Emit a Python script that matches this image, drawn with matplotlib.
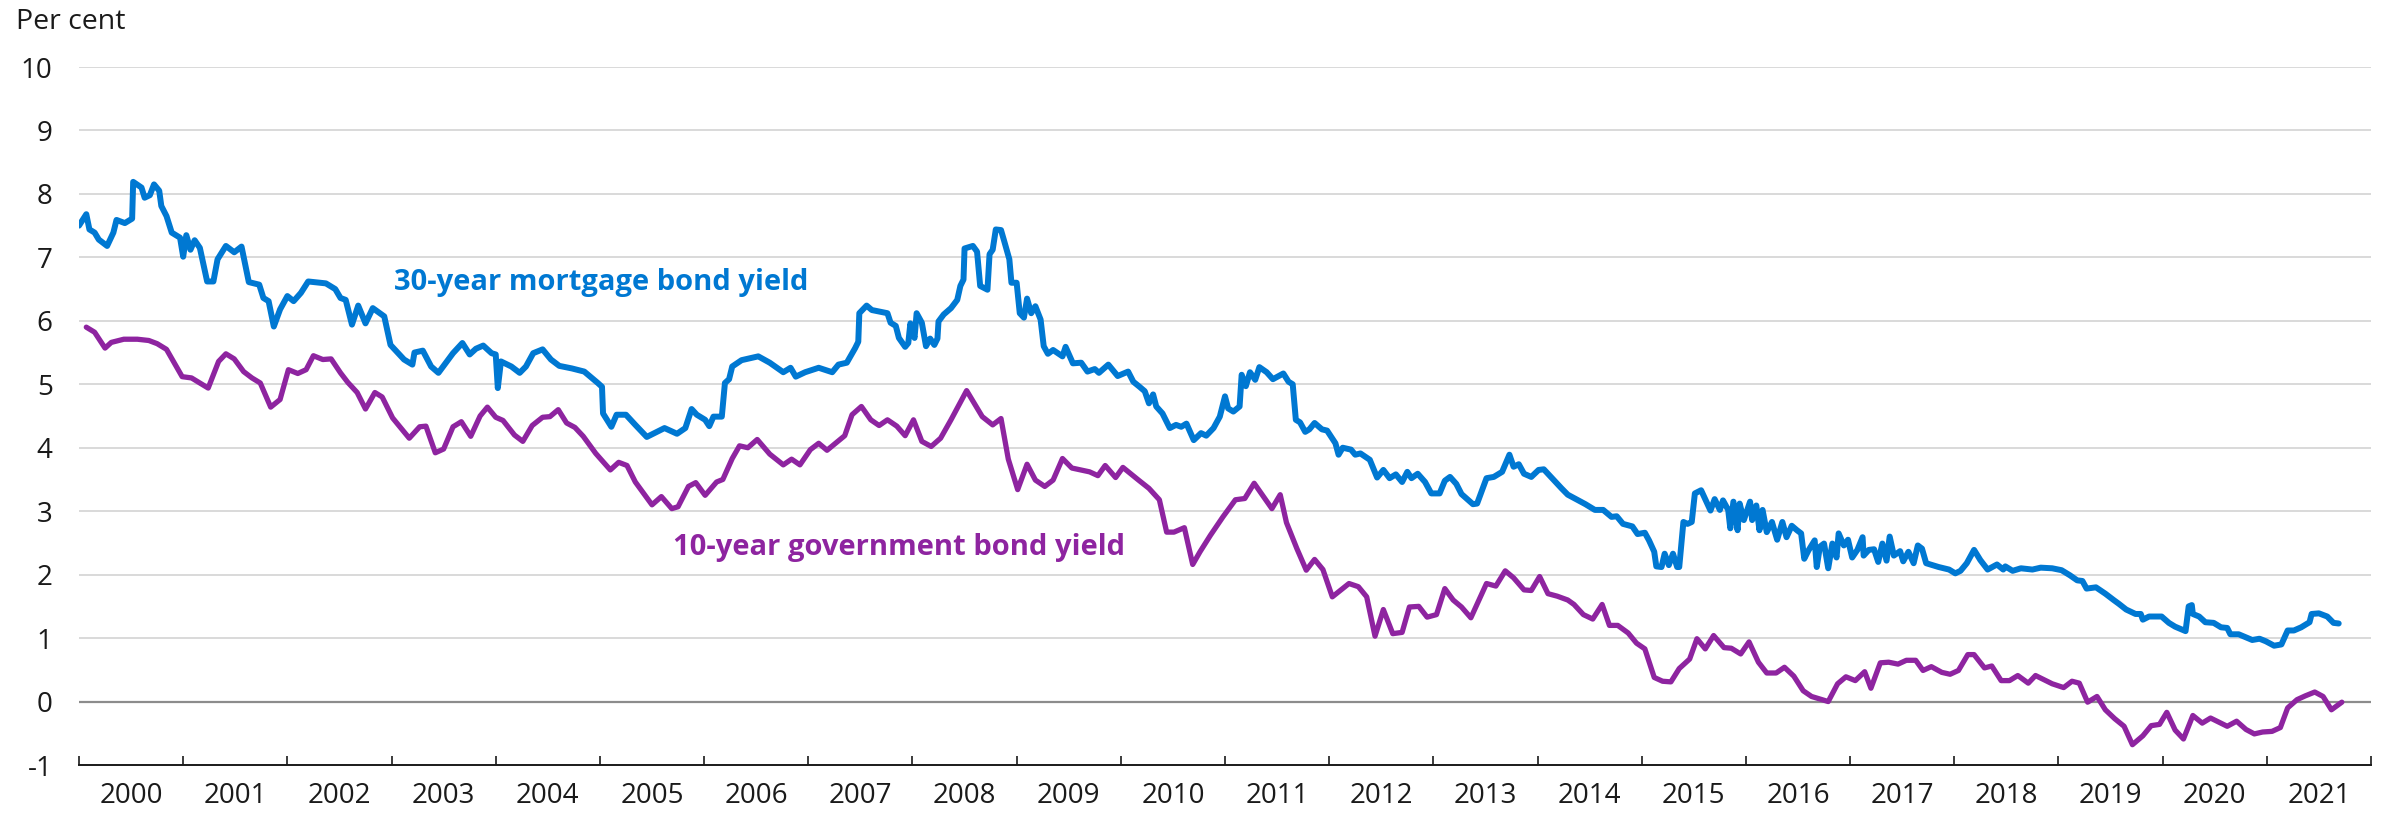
import matplotlib
matplotlib.use("Agg")
import matplotlib.pyplot as plt
import numpy as np

plt.rcParams['font.family'] = ['Open Sans', 'DejaVu Sans']

# 30-year mortgage bond yield (decimal year, per cent)
mortgage_t = [
    2000.00, 2000.07, 2000.10, 2000.15, 2000.19, 2000.27, 2000.33, 2000.36, 2000.44, 2000.51,
    2000.52, 2000.60, 2000.63, 2000.68, 2000.72, 2000.77, 2000.79, 2000.84, 2000.89, 2000.97,
    2001.00, 2001.03, 2001.07, 2001.11, 2001.16, 2001.23, 2001.29, 2001.33, 2001.41, 2001.49,
    2001.56, 2001.63, 2001.73, 2001.77, 2001.82, 2001.87, 2001.93, 2002.00, 2002.06, 2002.13,
    2002.20, 2002.37, 2002.46, 2002.51, 2002.56, 2002.62, 2002.68, 2002.75, 2002.82, 2002.93,
    2002.99, 2003.12, 2003.20, 2003.22, 2003.30, 2003.38, 2003.45, 2003.59, 2003.68, 2003.75,
    2003.81, 2003.88, 2003.96, 2004.00, 2004.02, 2004.05, 2004.15, 2004.23, 2004.29, 2004.36,
    2004.45, 2004.53, 2004.61, 2004.73, 2004.85, 2004.98, 2005.02, 2005.03, 2005.11, 2005.16,
    2005.25, 2005.34, 2005.45, 2005.62, 2005.74, 2005.82, 2005.88, 2005.93, 2006.01, 2006.05,
    2006.09, 2006.17, 2006.20, 2006.24, 2006.27, 2006.36, 2006.52, 2006.63, 2006.76, 2006.83,
    2006.88, 2006.97, 2007.10, 2007.23, 2007.29, 2007.37, 2007.45, 2007.48, 2007.49, 2007.56,
    2007.61, 2007.76, 2007.79, 2007.84, 2007.87, 2007.93, 2007.96, 2007.98, 2008.02, 2008.04,
    2008.09, 2008.13, 2008.17, 2008.21, 2008.24, 2008.25, 2008.30, 2008.37, 2008.43, 2008.46,
    2008.49, 2008.50, 2008.58, 2008.62, 2008.65, 2008.72, 2008.74, 2008.77, 2008.80, 2008.85,
    2008.88, 2008.93, 2008.95, 2009.00, 2009.03, 2009.07, 2009.10, 2009.14, 2009.18, 2009.23,
    2009.26, 2009.30, 2009.35, 2009.44, 2009.47, 2009.54, 2009.62, 2009.68, 2009.75, 2009.79,
    2009.88, 2009.97, 2010.07, 2010.12, 2010.18, 2010.23, 2010.27, 2010.31, 2010.34, 2010.40,
    2010.47, 2010.53, 2010.58, 2010.63, 2010.70, 2010.77, 2010.82, 2010.89, 2010.95, 2011.00,
    2011.03, 2011.08, 2011.14, 2011.16, 2011.20, 2011.24, 2011.29, 2011.33, 2011.40, 2011.46,
    2011.56, 2011.61, 2011.65, 2011.68, 2011.72, 2011.77, 2011.81, 2011.86, 2011.93, 2011.98,
    2012.06, 2012.09, 2012.13, 2012.21, 2012.25, 2012.30, 2012.39, 2012.46, 2012.52, 2012.58,
    2012.64, 2012.70, 2012.75, 2012.79, 2012.85, 2012.92, 2012.98, 2013.06, 2013.11, 2013.16,
    2013.22, 2013.27, 2013.38, 2013.42, 2013.51, 2013.58, 2013.66, 2013.73, 2013.77, 2013.82,
    2013.87, 2013.94, 2014.01, 2014.06, 2014.15, 2014.23, 2014.29, 2014.38, 2014.46, 2014.55,
    2014.63, 2014.71, 2014.76, 2014.82, 2014.91, 2014.96, 2015.03, 2015.07, 2015.12, 2015.14,
    2015.19, 2015.22, 2015.26, 2015.30, 2015.34, 2015.36, 2015.40, 2015.44, 2015.48, 2015.51,
    2015.57, 2015.62, 2015.66, 2015.70, 2015.75, 2015.78, 2015.83, 2015.85, 2015.88, 2015.92,
    2015.94, 2015.98, 2016.04, 2016.06, 2016.10, 2016.13, 2016.16, 2016.20, 2016.25, 2016.30,
    2016.35, 2016.39, 2016.44, 2016.49, 2016.53, 2016.56, 2016.60, 2016.66, 2016.68, 2016.71,
    2016.75, 2016.79, 2016.83, 2016.87, 2016.89, 2016.94, 2016.98, 2017.02, 2017.07, 2017.12,
    2017.13, 2017.18, 2017.23, 2017.27, 2017.31, 2017.35, 2017.38, 2017.42, 2017.48, 2017.51,
    2017.56, 2017.61, 2017.65, 2017.69, 2017.73, 2017.85, 2017.95, 2018.01, 2018.06, 2018.12,
    2018.19, 2018.25, 2018.32, 2018.41, 2018.47, 2018.49, 2018.56, 2018.64, 2018.75, 2018.83,
    2018.94, 2019.03, 2019.11, 2019.18, 2019.23, 2019.27, 2019.36, 2019.45, 2019.53, 2019.58,
    2019.65, 2019.74, 2019.79, 2019.81, 2019.87, 2019.99, 2020.06, 2020.12, 2020.22, 2020.25,
    2020.28, 2020.29, 2020.35, 2020.41, 2020.49, 2020.56, 2020.62, 2020.65, 2020.73, 2020.86,
    2020.93, 2020.99, 2021.07, 2021.14, 2021.20, 2021.26, 2021.33, 2021.41, 2021.43, 2021.50,
    2021.58, 2021.64, 2021.69,
]
mortgage_y = [
    7.50, 7.68, 7.44, 7.39, 7.28, 7.18, 7.39, 7.59, 7.54, 7.61,
    8.19, 8.10, 7.94, 7.98, 8.15, 8.05, 7.81, 7.65, 7.39, 7.31,
    7.01, 7.35, 7.12, 7.27, 7.15, 6.62, 6.62, 6.97, 7.18, 7.08,
    7.17, 6.61, 6.57, 6.36, 6.31, 5.91, 6.18, 6.39, 6.31, 6.44,
    6.62, 6.59, 6.50, 6.36, 6.33, 5.94, 6.24, 5.96, 6.20, 6.07,
    5.62, 5.39, 5.31, 5.50, 5.53, 5.28, 5.18, 5.49, 5.65, 5.47,
    5.56, 5.61, 5.49, 5.47, 4.94, 5.36, 5.28, 5.18, 5.28, 5.49,
    5.55, 5.39, 5.29, 5.25, 5.20, 5.02, 4.96, 4.54, 4.33, 4.52,
    4.52, 4.36, 4.17, 4.31, 4.22, 4.31, 4.61, 4.52, 4.44, 4.34,
    4.49, 4.49, 5.02, 5.08, 5.28, 5.38, 5.44, 5.34, 5.19, 5.26,
    5.12, 5.19, 5.26, 5.19, 5.31, 5.34, 5.57, 5.67, 6.12, 6.24,
    6.17, 6.12, 5.97, 5.92, 5.73, 5.59, 5.65, 5.96, 5.73, 6.12,
    5.97, 5.60, 5.72, 5.62, 5.72, 5.99, 6.10, 6.20, 6.33, 6.55,
    6.65, 7.14, 7.18, 7.09, 6.55, 6.49, 7.05, 7.12, 7.44, 7.43,
    7.26, 6.97, 6.60, 6.60, 6.12, 6.05, 6.35, 6.12, 6.23, 6.02,
    5.60, 5.48, 5.54, 5.44, 5.59, 5.33, 5.34, 5.20, 5.24, 5.18,
    5.31, 5.13, 5.20, 5.04, 4.96, 4.89, 4.70, 4.84, 4.65, 4.54,
    4.31, 4.36, 4.33, 4.38, 4.12, 4.23, 4.19, 4.31, 4.49, 4.81,
    4.62, 4.57, 4.65, 5.15, 4.97, 5.19, 5.07, 5.27, 5.19, 5.08,
    5.17, 5.04, 5.00, 4.44, 4.40, 4.25, 4.29, 4.39, 4.29, 4.27,
    4.07, 3.89, 4.00, 3.97, 3.89, 3.91, 3.81, 3.53, 3.65, 3.52,
    3.58, 3.46, 3.62, 3.52, 3.59, 3.46, 3.28, 3.28, 3.48, 3.54,
    3.43, 3.27, 3.11, 3.12, 3.52, 3.54, 3.62, 3.89, 3.70, 3.74,
    3.59, 3.54, 3.65, 3.66, 3.50, 3.36, 3.26, 3.18, 3.11, 3.02,
    3.02, 2.91, 2.92, 2.80, 2.76, 2.64, 2.66, 2.54, 2.36, 2.13,
    2.12, 2.33, 2.15, 2.33, 2.12, 2.12, 2.83, 2.80, 2.83, 3.28,
    3.33, 3.15, 3.01, 3.19, 3.02, 3.17, 3.02, 2.73, 3.15, 2.70,
    3.12, 2.86, 3.15, 2.86, 3.09, 2.70, 3.02, 2.67, 2.83, 2.55,
    2.83, 2.59, 2.77, 2.70, 2.65, 2.25, 2.38, 2.54, 2.12, 2.44,
    2.49, 2.10, 2.49, 2.27, 2.65, 2.46, 2.55, 2.27, 2.39, 2.59,
    2.30, 2.39, 2.40, 2.20, 2.49, 2.22, 2.60, 2.30, 2.37, 2.21,
    2.36, 2.18, 2.46, 2.41, 2.18, 2.12, 2.08, 2.02, 2.06, 2.18,
    2.39, 2.23, 2.08, 2.16, 2.08, 2.13, 2.06, 2.10, 2.08, 2.11,
    2.10, 2.07, 1.99, 1.91, 1.90, 1.78, 1.80, 1.70, 1.60, 1.54,
    1.45, 1.38, 1.38, 1.29, 1.34, 1.34, 1.24, 1.18, 1.11, 1.50,
    1.52, 1.38, 1.34, 1.25, 1.24, 1.17, 1.16, 1.06, 1.06, 0.97,
    0.99, 0.95, 0.88, 0.90, 1.12, 1.12, 1.17, 1.25, 1.38, 1.39,
    1.34, 1.24, 1.23,
]

# 10-year government bond yield
govt_t = [
    2000.07, 2000.15, 2000.25, 2000.31, 2000.43, 2000.56, 2000.67, 2000.75, 2000.84, 2000.99,
    2001.08, 2001.24, 2001.34, 2001.41, 2001.49, 2001.58, 2001.66, 2001.74, 2001.84, 2001.93,
    2002.01, 2002.10, 2002.18, 2002.25, 2002.34, 2002.42, 2002.51, 2002.58, 2002.67, 2002.75,
    2002.84, 2002.91, 2003.01, 2003.17, 2003.27, 2003.33, 2003.42, 2003.50, 2003.59, 2003.67,
    2003.76, 2003.85, 2003.92, 2004.00, 2004.07, 2004.18, 2004.26, 2004.35, 2004.45, 2004.52,
    2004.60, 2004.68, 2004.76, 2004.84, 2004.96, 2005.10, 2005.18, 2005.26, 2005.34, 2005.50,
    2005.59, 2005.69, 2005.75, 2005.85, 2005.92, 2006.01, 2006.12, 2006.18, 2006.27, 2006.34,
    2006.42, 2006.51, 2006.63, 2006.76, 2006.84, 2006.92, 2007.02, 2007.10, 2007.18, 2007.35,
    2007.42, 2007.51, 2007.60, 2007.68, 2007.76, 2007.85, 2007.93, 2008.01, 2008.09, 2008.18,
    2008.27, 2008.37, 2008.52, 2008.67, 2008.77, 2008.85, 2008.92, 2009.01, 2009.10, 2009.18,
    2009.27, 2009.35, 2009.44, 2009.53, 2009.70, 2009.78, 2009.85, 2009.95, 2010.02, 2010.17,
    2010.27, 2010.37, 2010.44, 2010.51, 2010.61, 2010.69, 2010.76, 2010.86, 2010.98, 2011.10,
    2011.19, 2011.28, 2011.45, 2011.53, 2011.59, 2011.69, 2011.78, 2011.86, 2011.94, 2012.03,
    2012.19, 2012.28, 2012.36, 2012.44, 2012.52, 2012.61, 2012.70, 2012.77, 2012.86, 2012.94,
    2013.03, 2013.11, 2013.19, 2013.27, 2013.36, 2013.51, 2013.60, 2013.69, 2013.77, 2013.87,
    2013.94, 2014.02, 2014.10, 2014.19, 2014.29, 2014.35, 2014.44, 2014.53, 2014.62, 2014.69,
    2014.77, 2014.87, 2014.95, 2015.03, 2015.12, 2015.20, 2015.28, 2015.36, 2015.46, 2015.53,
    2015.61, 2015.69, 2015.79, 2015.86, 2015.95, 2016.03, 2016.12, 2016.20, 2016.29, 2016.37,
    2016.46, 2016.55, 2016.63, 2016.79, 2016.88, 2016.96, 2017.05, 2017.14, 2017.20, 2017.29,
    2017.37, 2017.46, 2017.54, 2017.63, 2017.70, 2017.78, 2017.88, 2017.96, 2018.04, 2018.13,
    2018.19, 2018.29, 2018.36, 2018.45, 2018.53, 2018.61, 2018.71, 2018.78, 2018.94, 2019.05,
    2019.13, 2019.20, 2019.28, 2019.37, 2019.45, 2019.54, 2019.63, 2019.71, 2019.81, 2019.89,
    2019.97, 2020.04, 2020.12, 2020.20, 2020.29, 2020.38, 2020.46, 2020.62, 2020.71, 2020.80,
    2020.88, 2020.96, 2021.05, 2021.13, 2021.20, 2021.29, 2021.37, 2021.46, 2021.54, 2021.62,
    2021.72,
]
govt_y = [
    5.90, 5.82, 5.57, 5.66, 5.71, 5.71, 5.69, 5.64, 5.55, 5.12,
    5.10, 4.94, 5.36, 5.48, 5.40, 5.20, 5.10, 5.02, 4.64, 4.76,
    5.23, 5.17, 5.23, 5.45, 5.39, 5.40, 5.18, 5.03, 4.87, 4.61,
    4.87, 4.80, 4.47, 4.15, 4.33, 4.34, 3.92, 3.98, 4.33, 4.41,
    4.18, 4.50, 4.64, 4.48, 4.43, 4.20, 4.10, 4.35, 4.48, 4.49,
    4.60, 4.39, 4.32, 4.18, 3.91, 3.65, 3.77, 3.72, 3.46, 3.10,
    3.23, 3.04, 3.07, 3.39, 3.45, 3.25, 3.46, 3.50, 3.83, 4.03,
    4.00, 4.13, 3.90, 3.73, 3.82, 3.73, 3.97, 4.07, 3.96, 4.19,
    4.52, 4.65, 4.44, 4.35, 4.44, 4.34, 4.19, 4.44, 4.10, 4.02,
    4.15, 4.44, 4.90, 4.49, 4.36, 4.46, 3.82, 3.34, 3.74, 3.49,
    3.39, 3.49, 3.83, 3.68, 3.62, 3.56, 3.72, 3.53, 3.69, 3.49,
    3.36, 3.18, 2.67, 2.67, 2.74, 2.16, 2.36, 2.62, 2.91, 3.18,
    3.20, 3.44, 3.04, 3.26, 2.82, 2.41, 2.07, 2.24, 2.08, 1.65,
    1.86, 1.81, 1.65, 1.03, 1.45, 1.07, 1.09, 1.49, 1.50, 1.33,
    1.37, 1.78, 1.60, 1.49, 1.32, 1.86, 1.82, 2.06, 1.95, 1.76,
    1.75, 1.97, 1.70, 1.66, 1.60, 1.53, 1.37, 1.30, 1.53, 1.20,
    1.20, 1.08, 0.92, 0.83, 0.38, 0.32, 0.31, 0.52, 0.67, 0.99,
    0.83, 1.04, 0.85, 0.84, 0.75, 0.94, 0.62, 0.45, 0.45, 0.54,
    0.40, 0.17, 0.08, 0.00, 0.28, 0.39, 0.33, 0.47, 0.21, 0.61,
    0.62, 0.59, 0.65, 0.65, 0.49, 0.55, 0.46, 0.43, 0.49, 0.74,
    0.74, 0.53, 0.56, 0.33, 0.33, 0.41, 0.29, 0.41, 0.28, 0.22,
    0.32, 0.29, -0.01, 0.08, -0.13, -0.27, -0.39, -0.68, -0.54, -0.38,
    -0.36, -0.17, -0.45, -0.59, -0.22, -0.34, -0.26, -0.39, -0.31, -0.44,
    -0.51, -0.48, -0.47, -0.41, -0.10, 0.03, 0.09, 0.15, 0.08, -0.13,
    -0.01,
]

years = list(range(2000, 2022))
y_ticks = list(range(-1, 11))

blue = '#0078d2'
purple = '#8e24a0'

W, H = 2395, 814
fig = plt.figure(figsize=(W / 100, H / 100), dpi=100)
ax = fig.add_axes([79 / W, 1 - 765 / H, (2371 - 79) / W, (765 - 67) / H])

ax.set_xlim(2000, 2022)
ax.set_ylim(-1, 10)

# grid
for v in y_ticks[1:]:
    if v == 0:
        ax.axhline(0, color='#8c8c8c', lw=1.6, zorder=1)
    else:
        ax.axhline(v, color='#d9d9d9', lw=1.4, zorder=0)

ax.plot(mortgage_t, mortgage_y, color=blue, lw=4.3, solid_joinstyle='round',
        solid_capstyle='round', zorder=3)
ax.plot(govt_t, govt_y, color=purple, lw=3.8, solid_joinstyle='round',
        solid_capstyle='round', zorder=3)

for s in ['top', 'right', 'left']:
    ax.spines[s].set_visible(False)
ax.spines['bottom'].set_color('#1a1a1a')
ax.spines['bottom'].set_linewidth(1.4)

ax.set_yticks(y_ticks)
ax.set_yticklabels([str(v) for v in y_ticks])
ax.tick_params(axis='y', length=0, pad=19, labelsize=20, colors='#1a1a1a')

ax.set_xticks(years + [2022])
ax.set_xticklabels([])
ax.set_xticks([y + 0.5 for y in years], minor=True)
ax.set_xticklabels([str(y) for y in years], minor=True)
ax.tick_params(axis='x', which='major', direction='in', length=6.5, width=1.2,
               color='#1a1a1a')
ax.tick_params(axis='x', which='minor', length=0, pad=12, labelsize=20,
               colors='#1a1a1a')

fig.text(16 / W, 1 - 29 / H, 'Per cent', fontsize=20.5, color='#1a1a1a',
         ha='left', va='baseline')

ax.text(2003.02, 6.6, '30-year mortgage bond yield', color=blue, fontsize=21,
        fontweight='bold', ha='left', va='center')
ax.text(2005.7, 2.43, '10-year government bond yield', color=purple, fontsize=21,
        fontweight='bold', ha='left', va='center')

fig.savefig('out.png', dpi=100)
